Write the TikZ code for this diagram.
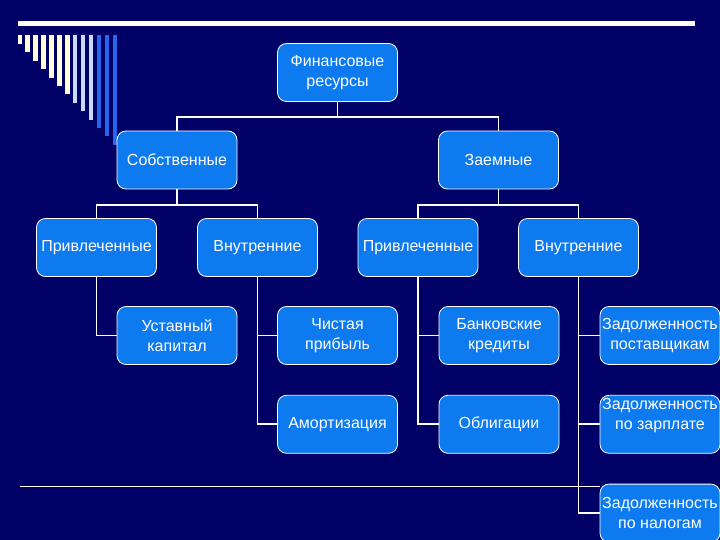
\documentclass[tikz,border=0pt]{standalone}
\usepackage{fontspec}
\setmainfont{Liberation Sans}
\usetikzlibrary{positioning}

\definecolor{navy}{RGB}{0,0,102}
\definecolor{boxblue}{RGB}{14,122,240}
\definecolor{cream}{RGB}{255,255,224}
\definecolor{paleblue}{RGB}{200,218,255}
\definecolor{midblue}{RGB}{40,102,236}

\begin{document}
\begin{tikzpicture}[
    x=1pt, y=-1pt, node distance=30pt,
    blk/.style={draw=white, line width=0.8pt, fill=boxblue, rounded corners=9pt,
                minimum width=120pt, minimum height=58pt, inner sep=0.5pt,
                align=center, text=white, font=\fontsize{16}{20}\selectfont},
    link/.style={draw=white, line width=1.8pt}
  ]
  \useasboundingbox (0,0) rectangle (720,540);
  \fill[navy] (0,0) rectangle (720,540);

  % slide decoration
  \fill[white] (18,21.5) rectangle (695,26.5);
  \foreach \i/\c in {0/cream,1/cream,2/cream,3/cream,4/cream,5/cream,6/cream,
                     7/paleblue,8/paleblue,9/paleblue,10/midblue,11/midblue,12/midblue}
    \fill[\c] (17.5+7.92*\i,35) rectangle (22+7.92*\i,44+8.4*\i);
  \draw[white, line width=1pt] (20,486) -- (600,486);

  % tree
  \node[blk] (fin) at (337.5,72.5) {Финансовые\\ресурсы};
  \node[blk] (sob) at (177,160) {Собственные};
  \node[blk] (zaem) at (498.5,160) {Заемные};

  \node[blk] (pl1) at (96.5,247.5) {Привлеченные};
  \node[blk] (vn1) at (257.5,247.5) {Внутренние};
  \node[blk] (pl2) at (418,247.5) {Привлеченные};
  \node[blk] (vn2) at (578.5,247.5) {Внутренние};

  \node[blk] (ust) at (177,335.5) {Уставный\\капитал};
  \node[blk] (chist) at (337.5,335.5) {Чистая\\прибыль};
  \node[blk, below=of chist] (amort) {Амортизация};
  \node[blk] (bank) at (499,335.5) {Банковские\\кредиты};
  \node[blk, below=of bank] (obl) {Облигации};
  \node[blk] (zpost) at (660,335.5) {Задолженность\\поставщикам};
  \node[blk, text depth=21pt, below=of zpost] (zzarp) {Задолженность\\по зарплате};
  \node[blk, below=of zzarp] (znal) {Задолженность\\по налогам};

  \draw[link] (fin.south) -- ++(0,15) -| (sob.north);
  \draw[link] (fin.south) -- ++(0,15) -| (zaem.north);
  \draw[link] (sob.south) -- ++(0,16) -| (pl1.north);
  \draw[link] (sob.south) -- ++(0,16) -| (vn1.north);
  \draw[link] (zaem.south) -- ++(0,16) -| (pl2.north);
  \draw[link] (zaem.south) -- ++(0,16) -| (vn2.north);

  \draw[link] (pl1.south) |- (ust.west);
  \draw[link] (vn1.south) |- (chist.west);
  \draw[link] (vn1.south) |- (amort.west);
  \draw[link] (pl2.south) |- (bank.west);
  \draw[link] (pl2.south) |- (obl.west);
  \draw[link] (vn2.south) |- (zpost.west);
  \draw[link] (vn2.south) |- (zzarp.west);
  \draw[link] (vn2.south) |- (znal.west);
\end{tikzpicture}
\end{document}
